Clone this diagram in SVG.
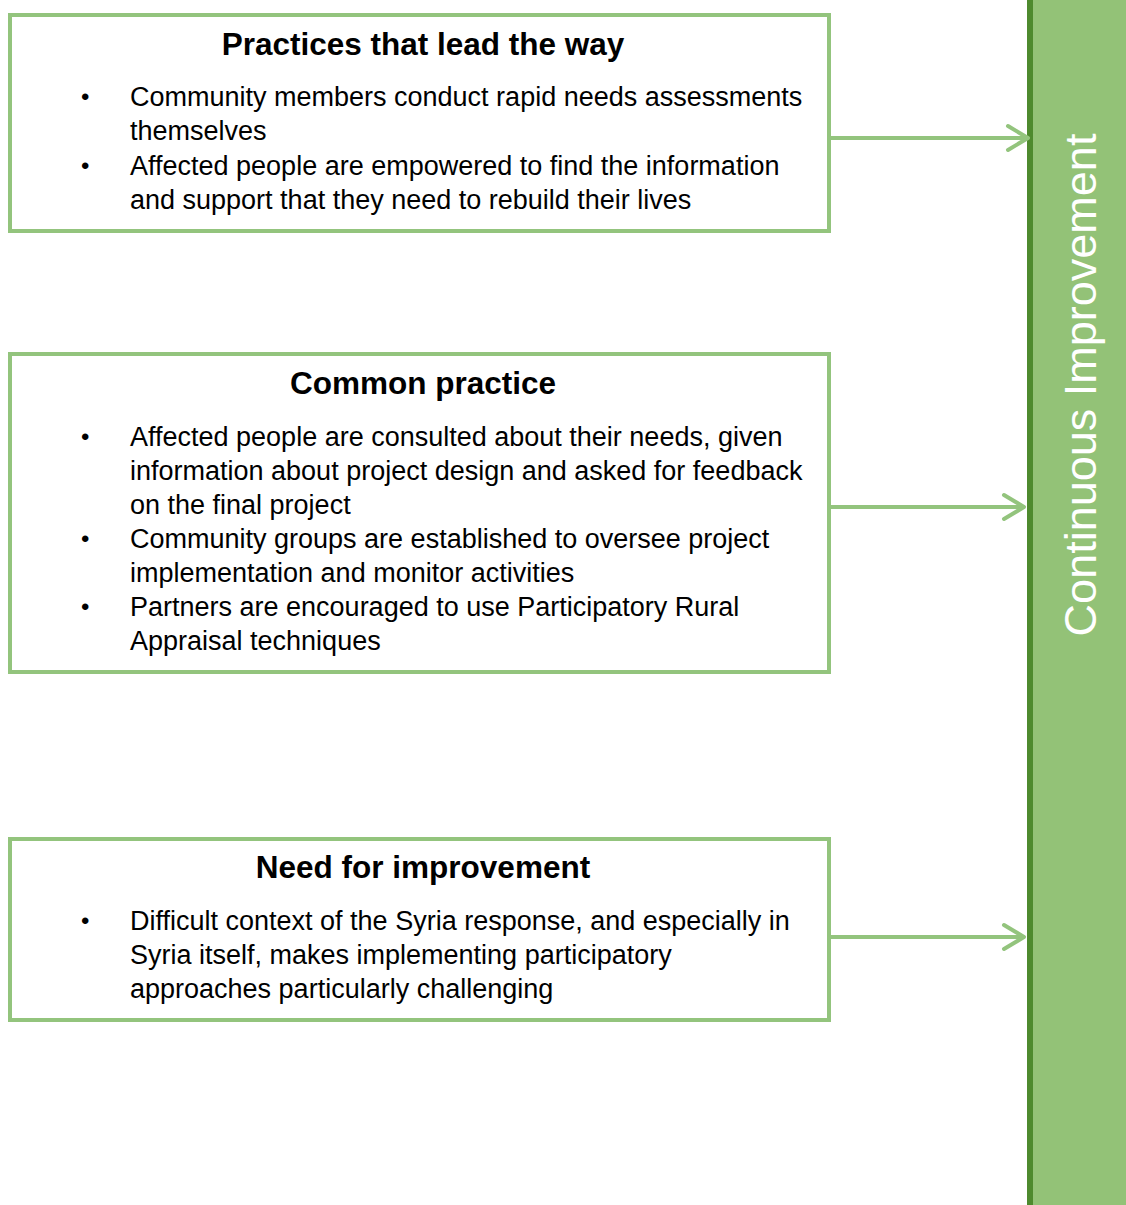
<svg xmlns="http://www.w3.org/2000/svg" width="1126" height="1205" viewBox="0 0 1126 1205">
<style>
.box{fill:#fff;stroke:#93c47d;stroke-width:4}
.t{font-family:"Liberation Sans",Arial,sans-serif;font-size:27px;fill:#000}
.h{font-family:"Liberation Sans",Arial,sans-serif;font-size:31.5px;font-weight:bold;fill:#000;text-anchor:middle}
.b{font-family:"Liberation Sans",Arial,sans-serif;font-size:24px;fill:#000}
.conn{stroke:#93c47d;stroke-width:4;fill:none}
.head{stroke:#93c47d;stroke-width:4;fill:none;stroke-linecap:round;stroke-linejoin:round}
</style>
<rect width="1126" height="1205" fill="#fff"/>
<g id="bar">
<rect x="1030" y="-5" width="100" height="1215" fill="#93c277"/>
<rect x="1027" y="-5" width="6" height="1215" fill="#4e8a2e"/>
<text transform="translate(1096,385) rotate(-90)" text-anchor="middle" font-family="'Liberation Sans',Arial,sans-serif" font-size="45" fill="#fff">Continuous Improvement</text>
</g>
<g id="connectors">
<path class="conn" d="M829 138H1028"/>
<path class="head" d="M1008 126L1028 138L1008 150"/>
<path class="conn" d="M829 507H1024"/>
<path class="head" d="M1004 495L1024 507L1004 519"/>
<path class="conn" d="M829 937H1024"/>
<path class="head" d="M1004 925L1024 937L1004 949"/>
</g>
<g id="node1">
<rect class="box" x="10" y="15" width="819" height="216"/>
<text class="h" x="423" y="55">Practices that lead the way</text>
<text class="b" x="81" y="105">•</text>
<text class="t" x="130" y="106">Community members conduct rapid needs assessments</text>
<text class="t" x="130" y="140">themselves</text>
<text class="b" x="81" y="174">•</text>
<text class="t" x="130" y="175">Affected people are empowered to find the information</text>
<text class="t" x="130" y="209">and support that they need to rebuild their lives</text>
</g>
<g id="node2">
<rect class="box" x="10" y="354" width="819" height="318"/>
<text class="h" x="423" y="394">Common practice</text>
<text class="b" x="81" y="445">•</text>
<text class="t" x="130" y="446">Affected people are consulted about their needs, given</text>
<text class="t" x="130" y="480">information about project design and asked for feedback</text>
<text class="t" x="130" y="514">on the final project</text>
<text class="b" x="81" y="547">•</text>
<text class="t" x="130" y="548">Community groups are established to oversee project</text>
<text class="t" x="130" y="582">implementation and monitor activities</text>
<text class="b" x="81" y="615">•</text>
<text class="t" x="130" y="616">Partners are encouraged to use Participatory Rural</text>
<text class="t" x="130" y="650">Appraisal techniques</text>
</g>
<g id="node3">
<rect class="box" x="10" y="839" width="819" height="181"/>
<text class="h" x="423" y="878">Need for improvement</text>
<text class="b" x="81" y="929">•</text>
<text class="t" x="130" y="930">Difficult context of the Syria response, and especially in</text>
<text class="t" x="130" y="964">Syria itself, makes implementing participatory</text>
<text class="t" x="130" y="998">approaches particularly challenging</text>
</g>
</svg>
